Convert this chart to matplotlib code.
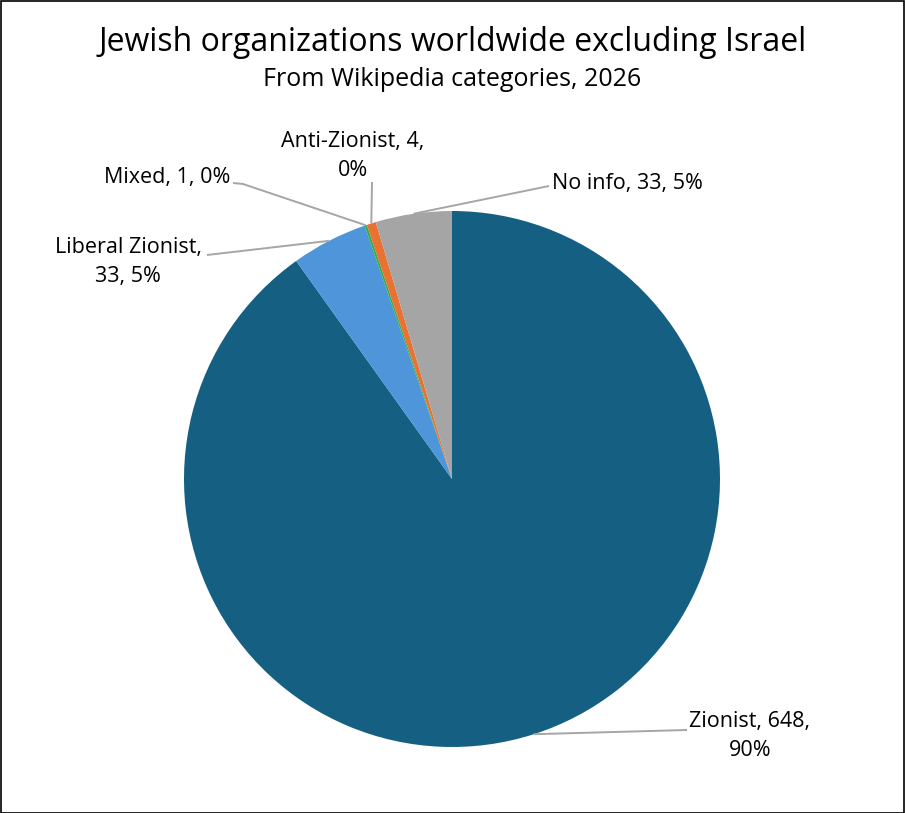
import numpy as np
import matplotlib
matplotlib.use("Agg")
import matplotlib.pyplot as plt

plt.rcParams["font.family"] = ["Open Sans", "DejaVu Sans"]

# data
categories = ["Zionist", "Liberal Zionist", "Mixed", "Anti-Zionist", "No info"]
counts     = [648, 33, 1, 4, 33]
pct_labels = [90, 5, 0, 0, 5]
colors     = ["#156082", "#4E95D9", "#2DB04B", "#E97132", "#A5A5A5"]

# label text position, text alignment, and line points next to the text (pixels from top-left)
label_xy   = {"Zionist": (750, 736), "Liberal Zionist": (128, 262), "Mixed": (230, 178),
              "Anti-Zionist": (353, 156), "No info": (552, 183)}
label_ha   = {"Zionist": "center", "Liberal Zionist": "center", "Mixed": "right",
              "Anti-Zionist": "center", "No info": "left"}
line_start = {"Zionist": [(687, 730)], "Liberal Zionist": [(207, 255)],
              "Mixed": [(233, 183), (243, 184)], "Anti-Zionist": [(372, 182)],
              "No info": [(549, 186)]}

W, H = 905, 813
CX, CY, R = 452, 479, 268


def fy(y):
    # pixel row (from top) -> data y (from bottom)
    return H - y


fig = plt.figure(figsize=(W / 100, H / 100), dpi=100)
ax = fig.add_axes([0, 0, 1, 1])

wedges, _ = ax.pie(counts, colors=colors, startangle=90, counterclock=False,
                   center=(CX, fy(CY)), radius=R, frame=True,
                   wedgeprops=dict(linewidth=0))
ax.set_xlim(0, W)
ax.set_ylim(0, H)
ax.set_aspect("equal")
ax.axis("off")

for name, n, pct, w in zip(categories, counts, pct_labels, wedges):
    if name == "Liberal Zionist":
        txt = f"{name},\n{n}, {pct}%"
    elif name in ("Zionist", "Anti-Zionist"):
        txt = f"{name}, {n},\n{pct}%"
    else:
        txt = f"{name}, {n}, {pct}%"
    tx, ty = label_xy[name]
    ax.text(tx, fy(ty), txt, ha=label_ha[name], va="center", fontsize=15.5,
            linespacing=1.45, color="#000000")
    # leader line ends at the middle of the wedge's rim
    ang = np.deg2rad((w.theta1 + w.theta2) / 2)
    px = w.center[0] + R * np.cos(ang)
    py = w.center[1] + R * np.sin(ang)
    pts = [(x, fy(y)) for x, y in line_start[name]] + [(px, py)]
    ax.plot([p[0] for p in pts], [p[1] for p in pts], color="#A6A6A6", lw=1.4,
            solid_capstyle="butt")

ax.text(W / 2, fy(43), "Jewish organizations worldwide excluding Israel",
        ha="center", va="center", fontsize=23)
ax.text(W / 2, fy(80), "From Wikipedia categories, 2026",
        ha="center", va="center", fontsize=18)

fig.patches.append(plt.Rectangle((0.5 / W, 0.5 / H), 1 - 1.5 / W, 1 - 1.5 / H,
                                 transform=fig.transFigure, fill=False,
                                 edgecolor="black", linewidth=1.2))

fig.savefig("out.png", dpi=100)
